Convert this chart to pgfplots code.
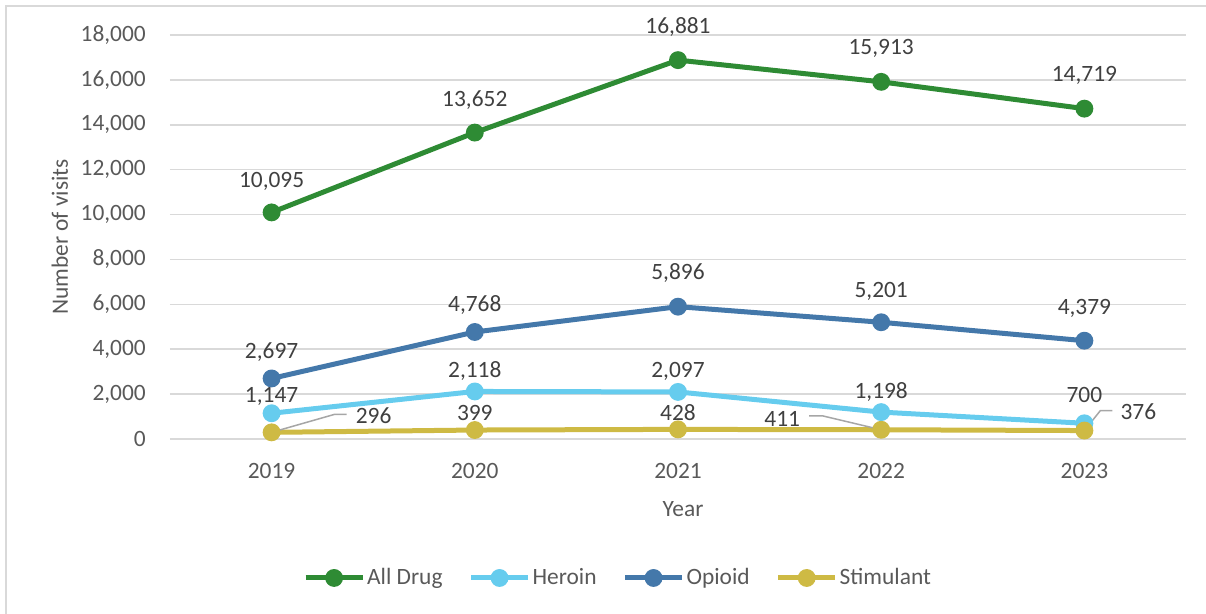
\documentclass[border=0pt]{standalone}
\usepackage{pgfplots}
\usepackage{pgfplotstable}
\pgfplotsset{compat=1.18}
\usepackage{fontspec}
\setmainfont{Carlito}

\definecolor{cAll}{RGB}{46,139,52}
\definecolor{cHer}{RGB}{102,204,238}
\definecolor{cOpi}{RGB}{68,120,170}
\definecolor{cSti}{RGB}{206,186,68}
\definecolor{gridgray}{RGB}{217,217,217}
\definecolor{ticktext}{RGB}{89,89,89}
\definecolor{labeltext}{RGB}{64,64,64}
\definecolor{leader}{RGB}{166,166,166}

% year index, visits, label offsets (pt)
\pgfplotstableread{
x y dx dy
0 10095 0 15.5
1 13652 0 16
2 16881 0 16.5
3 15913 0 16.5
4 14719 0 16.5
}\alldrug
\pgfplotstableread{
x y dx dy
0 1147 0 8.3
1 2118 0 10.2
2 2097 0 10.5
3 1198 0 10.2
4 700 0 14
}\heroin
\pgfplotstableread{
x y dx dy
0 2697 0 13
1 4768 0 13.5
2 5896 0 16.8
3 5201 0 15.5
4 4379 0 16
}\opioid
\pgfplotstableread{
x y dx dy
0 296 51 8.2
1 399 0 8.5
2 428 0 8.2
3 411 -49.5 5.4
4 376 27 9.3
}\stimulant

\begin{document}
\fontsize{11.7}{14}\selectfont
\begin{tikzpicture}
\begin{axis}[
  at={(0pt,0pt)}, anchor=south west,
  scale only axis, width=508pt, height=202pt,
  xmin=-0.5, xmax=4.5, ymin=0, ymax=18000,
  xtick={0,1,2,3,4}, xticklabels={2019,2020,2021,2022,2023},
  ytick={0,2000,...,18000},
  scaled y ticks=false,
  /pgf/number format/1000 sep={,},
  /pgf/number format/assume math mode=true,
  axis line style={draw=none},
  major tick length=0pt,
  ymajorgrids, grid style={gridgray, line width=0.75pt},
  tick label style={font=\fontsize{11.7}{14}\selectfont, text=ticktext},
  y tick label style={xshift=-8pt},
  x tick label style={yshift=-8pt},
  xlabel={Year}, ylabel={Number of visits},
  every axis y label/.style={at={(axis description cs:-0.1083,0.5)}, rotate=90, anchor=center,
    font=\fontsize{11.7}{14}\selectfont, text=ticktext},
  every axis x label/.style={at={(axis description cs:0.505,-0.1733)}, anchor=center,
    font=\fontsize{11.7}{14}\selectfont, text=ticktext},
  clip=false,
  every axis plot/.append style={line width=2.5pt, mark=*, mark size=3.2pt, mark options={solid}},
  legend columns=4,
  legend style={at={(0.441,-0.344)}, anchor=center, draw=none, fill=none,
    font=\fontsize{11.7}{14}\selectfont, text=ticktext,
    /tikz/every even column/.append style={column sep=12pt},
    inner sep=0pt, nodes={inner sep=1pt}},
  legend image code/.code={%
    \draw[mark repeat=2, mark phase=2, #1] plot coordinates {(0pt,0pt) (14.25pt,0pt) (28.5pt,0pt)};},
  labelled/.style={
    nodes near coords,
    point meta=y,
    visualization depends on={\thisrow{dx} \as \dx},
    visualization depends on={\thisrow{dy} \as \dy},
    every node near coord/.style={anchor=center, xshift=\dx pt, yshift=\dy pt,
      font=\fontsize{11.7}{14}\selectfont, text=labeltext},
  },
]
\addplot[labelled, color=cAll, mark options={fill=cAll, draw=cAll}] table[x=x, y=y] {\alldrug};
\addlegendentry{All Drug}
\addplot[labelled, color=cHer, mark options={fill=cHer, draw=cHer}] table[x=x, y=y] {\heroin};
\addlegendentry{Heroin}
\addplot[labelled, color=cOpi, mark options={fill=cOpi, draw=cOpi}] table[x=x, y=y] {\opioid};
\addlegendentry{Opioid}
\addplot[labelled, color=cSti, mark options={fill=cSti, draw=cSti}] table[x=x, y=y] {\stimulant};
\addlegendentry{Stimulant}

% leader lines for the offset stimulant labels
\draw[leader, line width=0.75pt] (axis cs:0,296) -- ++(31.5pt,9pt) -- ++(6pt,0pt);
\draw[leader, line width=0.75pt] (axis cs:3,411) -- ++(-29.5pt,7pt) -- ++(-6.5pt,0pt);
\draw[leader, line width=0.75pt] (axis cs:4,376) -- ++(8pt,10pt) -- ++(6pt,0pt);
\end{axis}
% chart frame
\draw[gridgray, line width=0.75pt] (-82pt,-100pt) -- (-82pt,216.5pt) -- (540pt,216.5pt);
\pgfresetboundingbox
\useasboundingbox (-85pt,-87.5pt) rectangle (518pt,219.5pt);
\end{tikzpicture}
\end{document}
